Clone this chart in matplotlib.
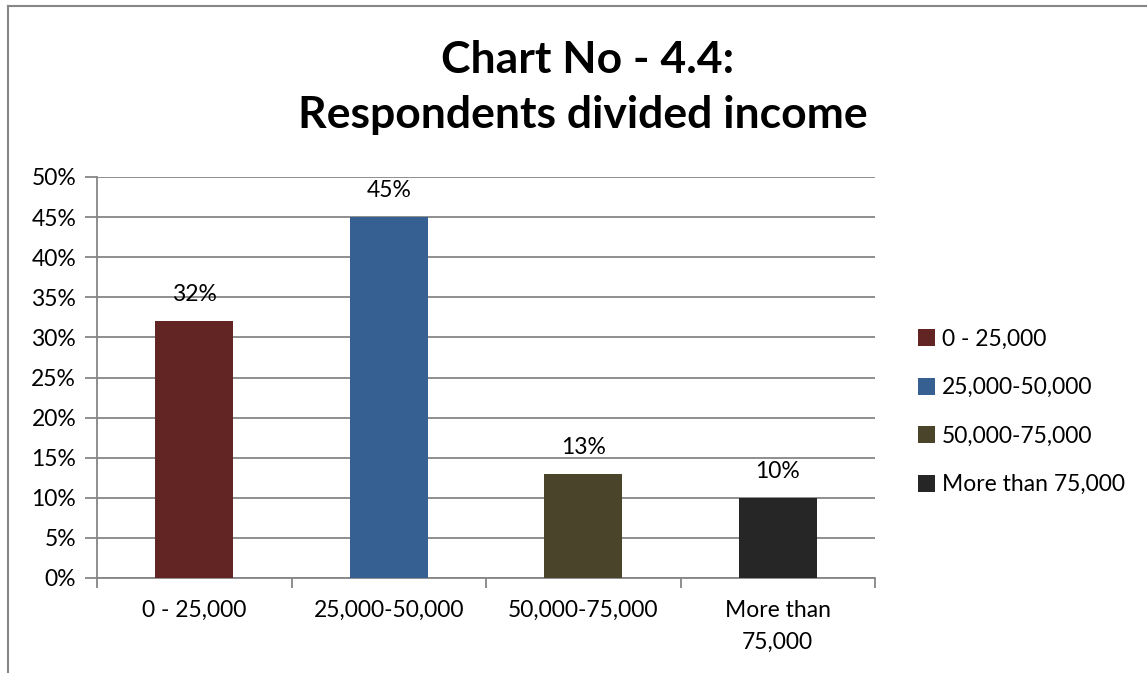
import matplotlib.pyplot as plt
import matplotlib.ticker as ticker
from matplotlib.lines import Line2D
from matplotlib.patches import Patch

plt.rcParams['font.family'] = ['Lato', 'DejaVu Sans']

# income groups and share of respondents (%)
categories = ["0 - 25,000", "25,000-50,000", "50,000-75,000", "More than 75,000"]
tick_labels = ["0 - 25,000", "25,000-50,000", "50,000-75,000", "More than\n75,000"]
shares = [32, 45, 13, 10]
colors = ["#632523", "#376092", "#4a452a", "#262626"]

grey = "#868686"
fs = 16.5

fig = plt.figure(figsize=(11.47, 6.73), dpi=100)
ax = fig.add_axes([97 / 1147, 1 - 578 / 673, (875 - 97) / 1147, (578 - 177) / 673])

x = range(len(categories))
bars = ax.bar(x, shares, width=0.4, color=colors, zorder=3)
for b, v in zip(bars, shares):
    ax.text(b.get_x() + b.get_width() / 2, v + 2.0, f"{v}%", ha="center", va="bottom",
            fontsize=fs, color="black")

ax.set_xlim(-0.5, len(categories) - 0.5)
ax.set_ylim(0, 50)
ax.yaxis.set_major_locator(ticker.MultipleLocator(5))
ax.yaxis.set_major_formatter(ticker.FuncFormatter(lambda v, p: f"{v:.0f}%"))
ax.grid(axis="y", color=grey, linewidth=1.3, zorder=0)

ax.set_xticks([i + 0.5 for i in range(len(categories) - 1)] + [-0.5, len(categories) - 0.5])
ax.set_xticklabels([])
ax.set_xticks(list(x), minor=True)
ax.set_xticklabels(tick_labels, minor=True, fontsize=fs, linespacing=1.6)
ax.tick_params(axis="x", which="minor", length=0, pad=16)
ax.tick_params(axis="x", which="major", length=7, width=1.3, color=grey)
ax.tick_params(axis="y", length=9, width=1.3, color=grey, labelsize=fs, pad=6)

for s in ["top", "right"]:
    ax.spines[s].set_visible(False)
for s in ["left", "bottom"]:
    ax.spines[s].set_color(grey)
    ax.spines[s].set_linewidth(1.3)

fig.text(588 / 1147, 1 - 60 / 673, "Chart No - 4.4:", ha="center", va="center",
         fontsize=32, fontweight="bold")
fig.text(583 / 1147, 1 - 115 / 673, "Respondents divided income", ha="center", va="center",
         fontsize=32, fontweight="bold")

handles = [Patch(facecolor=c, edgecolor="none") for c in colors]
fig.legend(handles, categories, loc="center left", bbox_to_anchor=(897 / 1147, 1 - 412 / 673),
           frameon=False, fontsize=fs, handlelength=0.75, handleheight=0.75,
           handletextpad=0.3, labelspacing=1.2)

# chart frame (left and top edges)
fig.add_artist(Line2D([8 / 1147, 8 / 1147], [0, 1 - 6 / 673], color=grey, linewidth=1.5))
fig.add_artist(Line2D([8 / 1147, 1], [1 - 6 / 673, 1 - 6 / 673], color=grey, linewidth=1.5))

fig.savefig("out.png", dpi=100)
